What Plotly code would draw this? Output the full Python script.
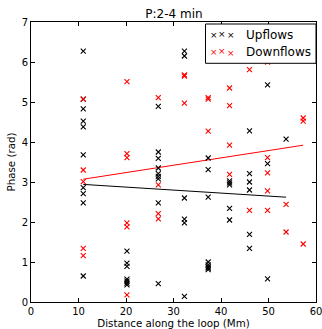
import plotly.graph_objects as go

# Upflows (black)
up_x = [11.0]*10 + [20.2]*7 + [26.8]*9 + [32.3]*6 + [37.3]*8 + [41.8]*5 + [46.0]*6 + [49.8]*3 + [53.7]
up_y = [6.27, 5.07, 4.83, 4.52, 4.38, 3.68, 2.86, 2.71, 2.48, 0.65,
        1.27, 0.97, 0.89, 0.57, 0.52, 0.47, 0.43,
        4.89, 3.75, 3.59, 3.35, 3.21, 3.14, 3.08, 2.48, 0.46,
        6.27, 6.15, 2.60, 2.07, 1.98, 0.14,
        3.60, 3.31, 2.62, 1.00, 0.93, 0.88, 0.85, 0.81,
        3.03, 2.98, 2.93, 2.34, 2.05,
        4.28, 3.21, 3.00, 2.80, 1.69, 1.34,
        5.43, 3.46, 0.58,
        4.07]

# Downflows (red)
down_x = [11.0]*5 + [20.2]*6 + [26.8]*4 + [32.3]*3 + [37.3]*3 + [41.8]*4 + [46.0]*2 + [49.8]*5 + [53.7]*2 + [57.3]*3
down_y = [5.07, 3.30, 3.01, 1.34, 1.16,
          5.51, 3.71, 3.61, 1.98, 1.88, 0.18,
          5.11, 2.93, 2.21, 2.08,
          5.68, 5.65, 4.97,
          5.11, 5.07, 4.27,
          5.35, 4.91, 3.92, 3.19,
          5.81, 2.29,
          6.00, 3.61, 3.23, 2.78, 2.29,
          2.44, 1.75,
          4.60, 4.52, 1.45]

# Linear fits (endpoints)
fit_up_x = [11.0, 53.7]
fit_up_y = [2.94, 2.62]
fit_down_x = [11.0, 57.3]
fit_down_y = [3.07, 3.92]

x_ticks = [0, 10, 20, 30, 40, 50, 60]
y_ticks = [0, 1, 2, 3, 4, 5, 6, 7]

FONT = "DejaVu Sans"
L, R, T, B = 31, 316, 22, 302
W, H = 322, 329
PW, PH = R - L, B - T

fig = go.Figure()
fig.add_trace(go.Scatter(x=fit_up_x, y=fit_up_y, mode="lines",
                         line=dict(color="black", width=1), showlegend=False))
fig.add_trace(go.Scatter(x=fit_down_x, y=fit_down_y, mode="lines",
                         line=dict(color="red", width=1), showlegend=False))
fig.add_trace(go.Scatter(x=up_x, y=up_y, mode="markers", name="Upflows",
                         marker=dict(symbol="x-thin", size=5, line=dict(color="black", width=1.1)),
                         showlegend=False))
fig.add_trace(go.Scatter(x=down_x, y=down_y, mode="markers", name="Downflows",
                         marker=dict(symbol="x-thin", size=5, line=dict(color="red", width=1.1)),
                         showlegend=False))

# manual legend (matplotlib style)
fig.add_shape(type="rect", xref="paper", yref="paper",
              x0=(205.5-L)/PW, x1=(316-L)/PW, y0=(B-63.3)/PH, y1=(B-24)/PH,
              line=dict(color="black", width=1), fillcolor="white", layer="above")
for label, color, ypix in [("Upflows", "black", 35), ("Downflows", "red", 52.5)]:
    yp = (B - ypix) / PH
    for xpix, dy in [(214, 0), (222.3, 1.2), (230.7, -0.5)]:
        fig.add_annotation(xref="paper", yref="paper", x=(xpix-L)/PW, y=yp + dy/PH,
                           text="×", showarrow=False, font=dict(family=FONT, size=9, color=color),
                           xanchor="center", yanchor="middle")
    fig.add_annotation(xref="paper", yref="paper", x=(243.5-L)/PW, y=yp, text=label,
                       showarrow=False, font=dict(family=FONT, size=12, color="black"),
                       xanchor="left", yanchor="middle")

axis_common = dict(showline=True, linecolor="black", linewidth=1, mirror="ticks",
                   ticks="inside", ticklen=4, tickcolor="black", showgrid=False,
                   zeroline=False, automargin=False, ticklabeloverflow="allow",
                   tickfont=dict(family=FONT, size=10, color="black"))
fig.update_xaxes(range=[0, 60], tickvals=x_ticks,
                 title=dict(text="Distance along the loop (Mm)", font=dict(family=FONT, size=10.3, color="black"), standoff=2),
                 **axis_common)
fig.update_yaxes(range=[0, 7], tickvals=y_ticks,
                 title=dict(text="Phase (rad)", font=dict(family=FONT, size=10.3, color="black"), standoff=4),
                 **axis_common)
fig.update_layout(width=W, height=H, margin=dict(l=L, r=W-R, t=T, b=H-B),
                  plot_bgcolor="white", paper_bgcolor="white",
                  title=dict(text="P:2-4 min", x=174/W, xanchor="center", y=1-14/H, yanchor="middle",
                             font=dict(family=FONT, size=12, color="black")),
                  font=dict(family=FONT))
fig.write_html("out.html", config={"displayModeBar": False},
               post_script="document.body.style.margin='0';document.body.style.overflow='hidden';")
